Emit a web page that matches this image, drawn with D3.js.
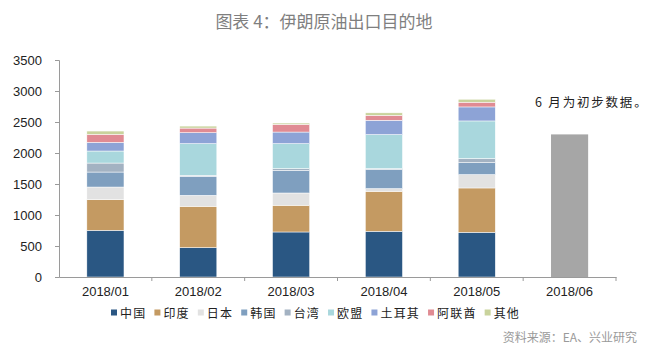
<!DOCTYPE html>
<html>
<head>
<meta charset="utf-8">
<script src="https://cdn.jsdelivr.net/npm/d3@7"></script>
<style>
  body { margin: 0; background: #fff; }
  text { font-family: "Liberation Sans", Arial, sans-serif; }
  .cjk { font-family: "Noto Sans CJK SC", sans-serif; }
</style>
</head>
<body>
<div id="my_dataviz"></div>
<script>
// data (thousand barrels per day)
const months = ["2018/01", "2018/02", "2018/03", "2018/04", "2018/05", "2018/06"];
const seriesNames = ["中国", "印度", "日本", "韩国", "台湾", "欧盟", "土耳其", "阿联酋", "其他"];
const china  = [753, 474, 726, 737, 721, 0];
const india  = [495, 666, 431, 645, 715, 0];
const japan  = [203, 177, 198, 44, 216, 0];
const korea  = [242, 308, 366, 308, 194, 0];
const taiwan = [145, 15, 27, 15, 65, 0];
const eu     = [194, 511, 403, 548, 606, 0];
const turkey = [140, 177, 187, 231, 226, 0];
const uae    = [129, 74, 124, 80, 76, 0];
const other  = [53, 32, 21, 40, 48, 0];
const prelim = [0, 0, 0, 0, 0, 2300];   // June, preliminary total only
const yTicks = [0, 500, 1000, 1500, 2000, 2500, 3000, 3500];

const colors = ["#2a5783", "#c49a62", "#e2e2e2", "#7f9fbf", "#a3b2c2", "#a9d7dd", "#8da3d6", "#e08b93", "#c9d39c"];

// 1. margins
const margin = { top: 60, right: 31, bottom: 74, left: 59 },
  width = 647 - margin.left - margin.right,
  height = 351 - margin.top - margin.bottom;

const root = d3.select("#my_dataviz")
  .append("svg")
  .attr("width", 647)
  .attr("height", 351);

const svg = root.append("g")
  .attr("transform", `translate(${margin.left}, ${margin.top})`);

// 2. table for stacking
const table = months.map((m, i) => ({
  month: m,
  "中国": china[i], "印度": india[i], "日本": japan[i], "韩国": korea[i], "台湾": taiwan[i],
  "欧盟": eu[i], "土耳其": turkey[i], "阿联酋": uae[i], "其他": other[i]
}));
const stacked = d3.stack().keys(seriesNames)(table);

// 3. scales
const x = d3.scaleBand()
  .domain(months)
  .range([0, width])
  .paddingInner(0.6)
  .paddingOuter(0.3);

const y = d3.scaleLinear()
  .domain([0, 3500])
  .range([height, 0]);

const color = d3.scaleOrdinal().domain(seriesNames).range(colors);

// 4. bars
svg.selectAll(".layer")
  .data(stacked)
  .enter()
  .append("g")
  .attr("class", "layer")
  .attr("fill", (d) => color(d.key))
  .selectAll("rect")
  .data((d) => d.filter((v) => v[1] > v[0]))
  .enter()
  .append("rect")
  .attr("x", (d) => x(d.data.month))
  .attr("y", (d) => y(d[1]))
  .attr("width", x.bandwidth())
  .attr("height", (d) => y(d[0]) - y(d[1]))
  .attr("stroke", "#fff")
  .attr("stroke-width", 0.5);

// 4A. June preliminary bar
svg.selectAll(".prelim")
  .data(months.map((m, i) => ({ month: m, v: prelim[i] })).filter((d) => d.v > 0))
  .enter()
  .append("rect")
  .attr("class", "prelim")
  .attr("x", (d) => x(d.month))
  .attr("y", (d) => y(d.v))
  .attr("width", x.bandwidth())
  .attr("height", (d) => height - y(d.v))
  .attr("fill", "#a6a6a6");

// 5. axes
const yAxis = svg.append("g")
  .call(d3.axisLeft(y).tickValues(yTicks).tickFormat(d3.format("d")).tickSize(4).tickPadding(13));
yAxis.selectAll("text").attr("font-size", 13).attr("fill", "#222").style("font-family", "Liberation Sans, Arial, sans-serif");
yAxis.selectAll("line, path").attr("stroke", "#9a9a9a");

const xAxis = svg.append("g")
  .attr("transform", `translate(0, ${height})`)
  .call(d3.axisBottom(x).tickSize(0).tickPadding(10));
xAxis.selectAll("text").attr("font-size", 13).attr("fill", "#222").style("font-family", "Liberation Sans, Arial, sans-serif");
xAxis.select(".domain").attr("stroke", "#9a9a9a");

// separators between categories
svg.append("g")
  .selectAll("line")
  .data(months)
  .enter()
  .append("line")
  .attr("x1", (d) => x(d) + x.bandwidth() + x.step() * 0.3)
  .attr("x2", (d) => x(d) + x.bandwidth() + x.step() * 0.3)
  .attr("y1", height)
  .attr("y2", height + 4)
  .attr("stroke", "#9a9a9a");

// 6. title, note, source
root.append("text")
  .attr("class", "cjk")
  .attr("x", 324)
  .attr("y", 28)
  .attr("text-anchor", "middle")
  .attr("font-size", 17)
  .attr("fill", "#7f7f7f")
  .text("图表 4：伊朗原油出口目的地");

root.append("text")
  .attr("class", "cjk")
  .attr("x", 535)
  .attr("y", 107)
  .attr("font-size", 12.5)
  .attr("letter-spacing", 1.8)
  .attr("fill", "#222")
  .text("6 月为初步数据。");

root.append("text")
  .attr("class", "cjk")
  .attr("x", 637)
  .attr("y", 342)
  .attr("text-anchor", "end")
  .attr("font-size", 12)
  .attr("fill", "#9a9a9a")
  .text("资料来源：EA、兴业研究");

// 7. legend
const legend = root.append("g").attr("transform", "translate(111, 313)");
let lx = 0;
seriesNames.forEach((name) => {
  const item = legend.append("g").attr("transform", `translate(${lx}, 0)`);
  item.append("rect")
    .attr("x", 0).attr("y", -3.5)
    .attr("width", 6).attr("height", 6)
    .attr("fill", color(name));
  const t = item.append("text")
    .attr("class", "cjk")
    .attr("x", 9)
    .attr("y", 4.5)
    .attr("font-size", 12)
    .attr("letter-spacing", 1.2)
    .attr("fill", "#222")
    .text(name);
  lx += 9 + t.node().getComputedTextLength() + 8;
});
</script>
</body>
</html>
